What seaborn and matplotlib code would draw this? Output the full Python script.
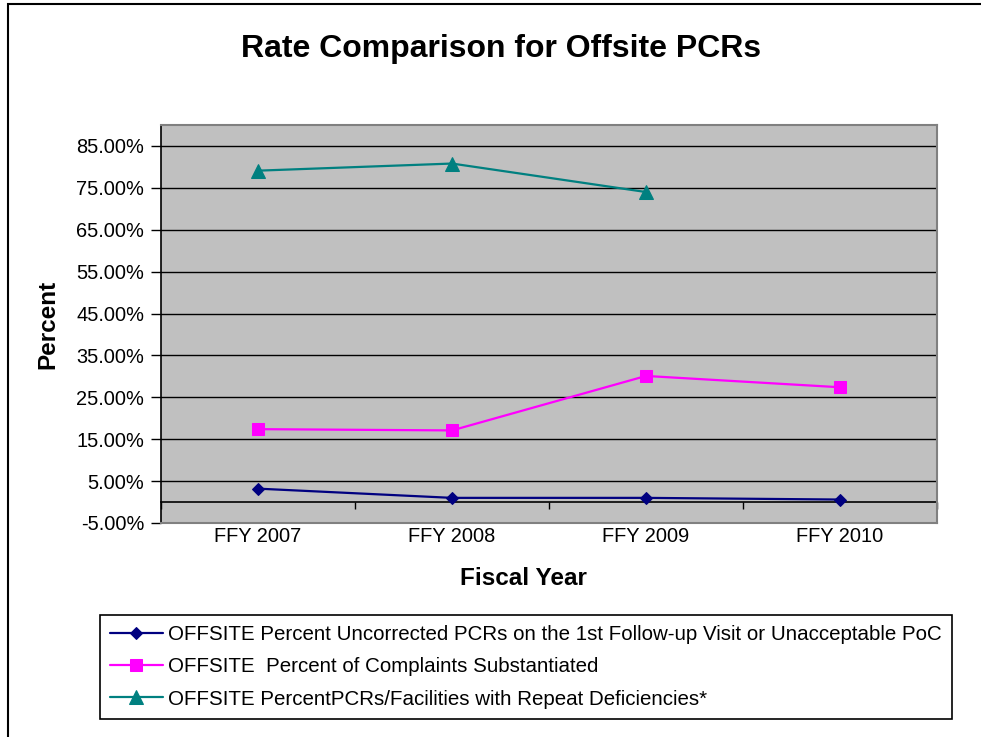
import matplotlib
matplotlib.use("Agg")
import matplotlib.pyplot as plt
import numpy as np
import pandas as pd
import seaborn as sns
from matplotlib.patches import Rectangle

# data
years = ["FFY 2007", "FFY 2008", "FFY 2009", "FFY 2010"]
uncorrected = [3.2, 1.0, 1.0, 0.6]
complaints = [17.4, 17.1, 30.1, 27.4]
repeat_def = [79.1, 80.8, 74.0, np.nan]

labels = [
    "OFFSITE Percent Uncorrected PCRs on the 1st Follow-up Visit or Unacceptable PoC",
    "OFFSITE  Percent of Complaints Substantiated",
    "OFFSITE PercentPCRs/Facilities with Repeat Deficiencies*",
]
y_ticks = [-5, 5, 15, 25, 35, 45, 55, 65, 75, 85]

colors = ["#000080", "#FF00FF", "#008080"]
markers = ["D", "s", "^"]
msizes = [6.5, 9, 10]

sns.set_style("white")
plt.rcParams["font.family"] = ["Liberation Sans", "DejaVu Sans"]
plt.rcParams["text.color"] = "black"
plt.rcParams["axes.labelcolor"] = "black"
plt.rcParams["xtick.color"] = "black"
plt.rcParams["ytick.color"] = "black"

rows = []
for lab, vals in zip(labels, [uncorrected, complaints, repeat_def]):
    for yr, v in zip(years, vals):
        rows.append({"series": lab, "year": yr, "value": v})
df = pd.DataFrame(rows).dropna()

fig = plt.figure(figsize=(9.81, 7.37), dpi=100)
ax = fig.add_axes([161 / 981, 1 - 523 / 737, 776 / 981, 398 / 737])
ax.set_facecolor("#C0C0C0")

for lab, c, m, ms in zip(labels, colors, markers, msizes):
    sub = df[df["series"] == lab]
    sns.lineplot(data=sub, x="year", y="value", ax=ax, color=c, marker=m,
                 markersize=ms, markeredgecolor=c, linewidth=1.6, label=lab,
                 sort=False)

ax.set_xlim(-0.5, 3.5)
ax.set_ylim(-5, 90)
ax.set_yticks(y_ticks)
ax.set_yticklabels([f"{t:.2f}%" for t in y_ticks])
ax.grid(axis="y", color="black", linewidth=1)
ax.set_axisbelow(True)

for s in ax.spines.values():
    s.set_color("#808080")
    s.set_linewidth(1.5)
ax.spines["left"].set_color("black")
ax.spines["left"].set_linewidth(1.2)

ax.tick_params(axis="y", direction="out", length=7, width=1, color="black",
               labelsize=14.4, pad=5, left=True, labelcolor="black")
ax.tick_params(axis="x", length=0, labelsize=14.4, pad=3, labelcolor="black")

# category axis line at 0% with boundary tick marks
sec = ax.secondary_xaxis(0, transform=ax.transData)
sec.set_xticks([-0.5, 0.5, 1.5, 2.5, 3.5])
sec.set_xticklabels([])
sec.tick_params(direction="out", length=5, width=1, color="black")
sec.spines["bottom"].set_color("black")
sec.spines["bottom"].set_linewidth(1.2)

ax.set_xlabel("Fiscal Year", fontsize=17.5, fontweight="bold", color="black")
ax.set_ylabel("Percent", fontsize=17.5, fontweight="bold", color="black")
ax.xaxis.set_label_coords((523 - 161) / 776, (523 - 567) / 398)
ax.yaxis.set_label_coords((59 - 161) / 776, 0.5)

fig.text(501 / 981, 1 - 49 / 737, "Rate Comparison for Offsite PCRs",
         ha="center", va="center", fontsize=23, fontweight="bold",
         color="black")

handles, hlabels = ax.get_legend_handles_labels()
ax.get_legend().remove()
leg = fig.legend(handles, hlabels, loc="upper left",
                 bbox_to_anchor=(100 / 981, 1 - 615 / 737),
                 borderaxespad=0, fontsize=14.8, frameon=True, fancybox=False,
                 edgecolor="black", framealpha=1, handlelength=2.55,
                 handletextpad=0.25, labelspacing=0.64, borderpad=0.5,
                 numpoints=1, labelcolor="black")
leg.get_frame().set_linewidth(1.2)

# outer chart border (left and top edges visible)
fig.patches.append(Rectangle((8 / 981, -0.2), 2, 1.2 - 4 / 737,
                             transform=fig.transFigure, fill=False,
                             edgecolor="black", linewidth=1.5))

fig.savefig("out.png", dpi=100)
